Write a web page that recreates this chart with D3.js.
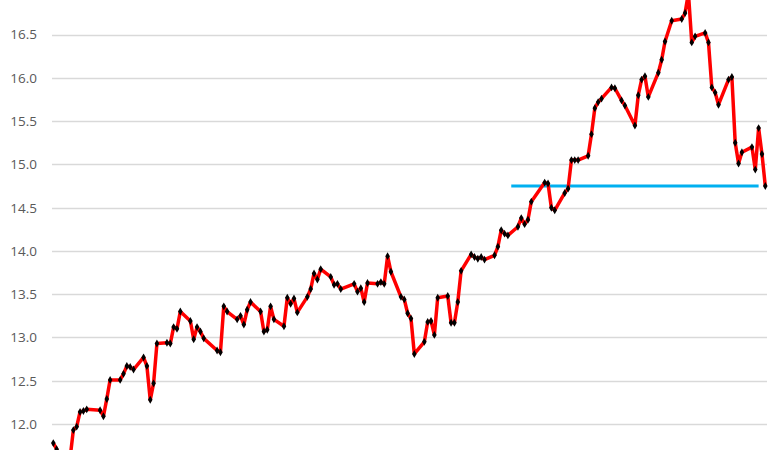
<!DOCTYPE html>
<html>
<head>
<meta charset="utf-8">
<script src="https://cdn.jsdelivr.net/npm/d3@7"></script>
<style>
  html, body { margin: 0; padding: 0; background: #fff; overflow: hidden; }
  svg { display: block; }
</style>
</head>
<body>
<svg id="chart" width="780" height="450"></svg>
<script>
// Trading-day index of each observation
const days = [0,1,2,5,6,7,8,9,10,14,15,16,17,20,21,22,23,24,27,28,29,30,31,34,35,36,37,38,41,42,43,44,45,49,50,51,52,55,56,57,58,59,62,63,64,65,66,69,70,71,72,73,76,77,78,79,80,83,84,85,86,90,91,92,93,94,97,98,99,100,101,104,105,106,107,108,111,112,113,114,115,118,119,120,121,122,125,126,127,128,129,132,133,134,135,136,139,140,141,142,143,147,148,149,150,153,154,155,156,157,160,161,162,163,164,167,168,170,171,174,175,176,177,178,181,182,183,185,188,189,190,191,192,195,196,197,198,199,202,203,204,205,206,209,210,211,212,213];
const values = [11.78,11.71,11.55,11.60,11.93,11.97,12.14,12.15,12.17,12.16,12.09,12.29,12.51,12.51,12.58,12.67,12.66,12.63,12.77,12.67,12.28,12.47,12.93,12.94,12.93,13.12,13.10,13.30,13.19,12.98,13.12,13.07,12.99,12.85,12.83,13.36,13.30,13.21,13.25,13.15,13.32,13.41,13.30,13.07,13.09,13.36,13.21,13.13,13.46,13.39,13.45,13.29,13.47,13.56,13.74,13.67,13.79,13.70,13.61,13.62,13.56,13.62,13.53,13.57,13.41,13.63,13.62,13.64,13.62,13.94,13.76,13.47,13.44,13.28,13.22,12.81,12.95,13.18,13.19,13.03,13.46,13.48,13.17,13.17,13.41,13.77,13.96,13.93,13.91,13.93,13.90,13.95,14.05,14.24,14.20,14.18,14.28,14.38,14.31,14.36,14.57,14.79,14.78,14.50,14.47,14.67,14.72,15.05,15.05,15.05,15.10,15.35,15.65,15.72,15.76,15.89,15.88,15.74,15.68,15.45,15.80,15.98,16.02,15.78,16.06,16.21,16.42,16.66,16.68,16.75,16.98,16.41,16.48,16.52,16.41,15.89,15.83,15.69,15.98,16.01,15.25,15.01,15.14,15.20,14.94,15.42,15.12,14.75];
const yTicks = [12.0,12.5,13.0,13.5,14.0,14.5,15.0,15.5,16.0,16.5];
// Horizontal reference level
const levelStart = [137];
const levelEnd = [211];
const levelValue = [14.75];

const svg = d3.select("#chart");
const x = d3.scaleLinear().domain([0, 213]).range([53.3, 765.3]);
const y = d3.scaleLinear().domain([11.7, 16.9]).range([450, 0]);

// gridlines
svg.append("g")
  .selectAll("line").data(yTicks).join("line")
  .attr("x1", 52).attr("x2", 767)
  .attr("y1", d => Math.round(y(d)) + 0.5).attr("y2", d => Math.round(y(d)) + 0.5)
  .attr("stroke", "#d9d9d9").attr("stroke-width", 1.5);

// y axis labels
const yAxis = d3.axisLeft(y).tickValues(yTicks).tickFormat(d3.format(".1f")).tickSize(0).tickPadding(0);
const ga = svg.append("g").attr("transform", "translate(37,0)").call(yAxis);
ga.select(".domain").remove();
ga.selectAll("text")
  .attr("font-family", "'Open Sans', 'Liberation Sans', sans-serif")
  .attr("font-size", 13.5)
  .attr("fill", "#595959");

// level line
svg.append("g").selectAll("line").data(levelValue).join("line")
  .attr("x1", (d, i) => x(levelStart[i])).attr("x2", (d, i) => x(levelEnd[i]))
  .attr("y1", d => y(d)).attr("y2", d => y(d))
  .attr("stroke", "#00b0f0").attr("stroke-width", 3);

const pts = days.map((d, i) => [d, values[i]]);
svg.append("path").datum(pts)
  .attr("fill", "none").attr("stroke", "#ff0000").attr("stroke-width", 3.5)
  .attr("stroke-linejoin", "round")
  .attr("d", d3.line().x(d => x(d[0])).y(d => y(d[1])));

svg.append("g").selectAll("path").data(pts).join("path")
  .attr("transform", d => `translate(${x(d[0])},${y(d[1])})`)
  .attr("d", d3.symbol().type(d3.symbolDiamond).size(18))
  .attr("fill", "#000");
</script>
</body>
</html>
